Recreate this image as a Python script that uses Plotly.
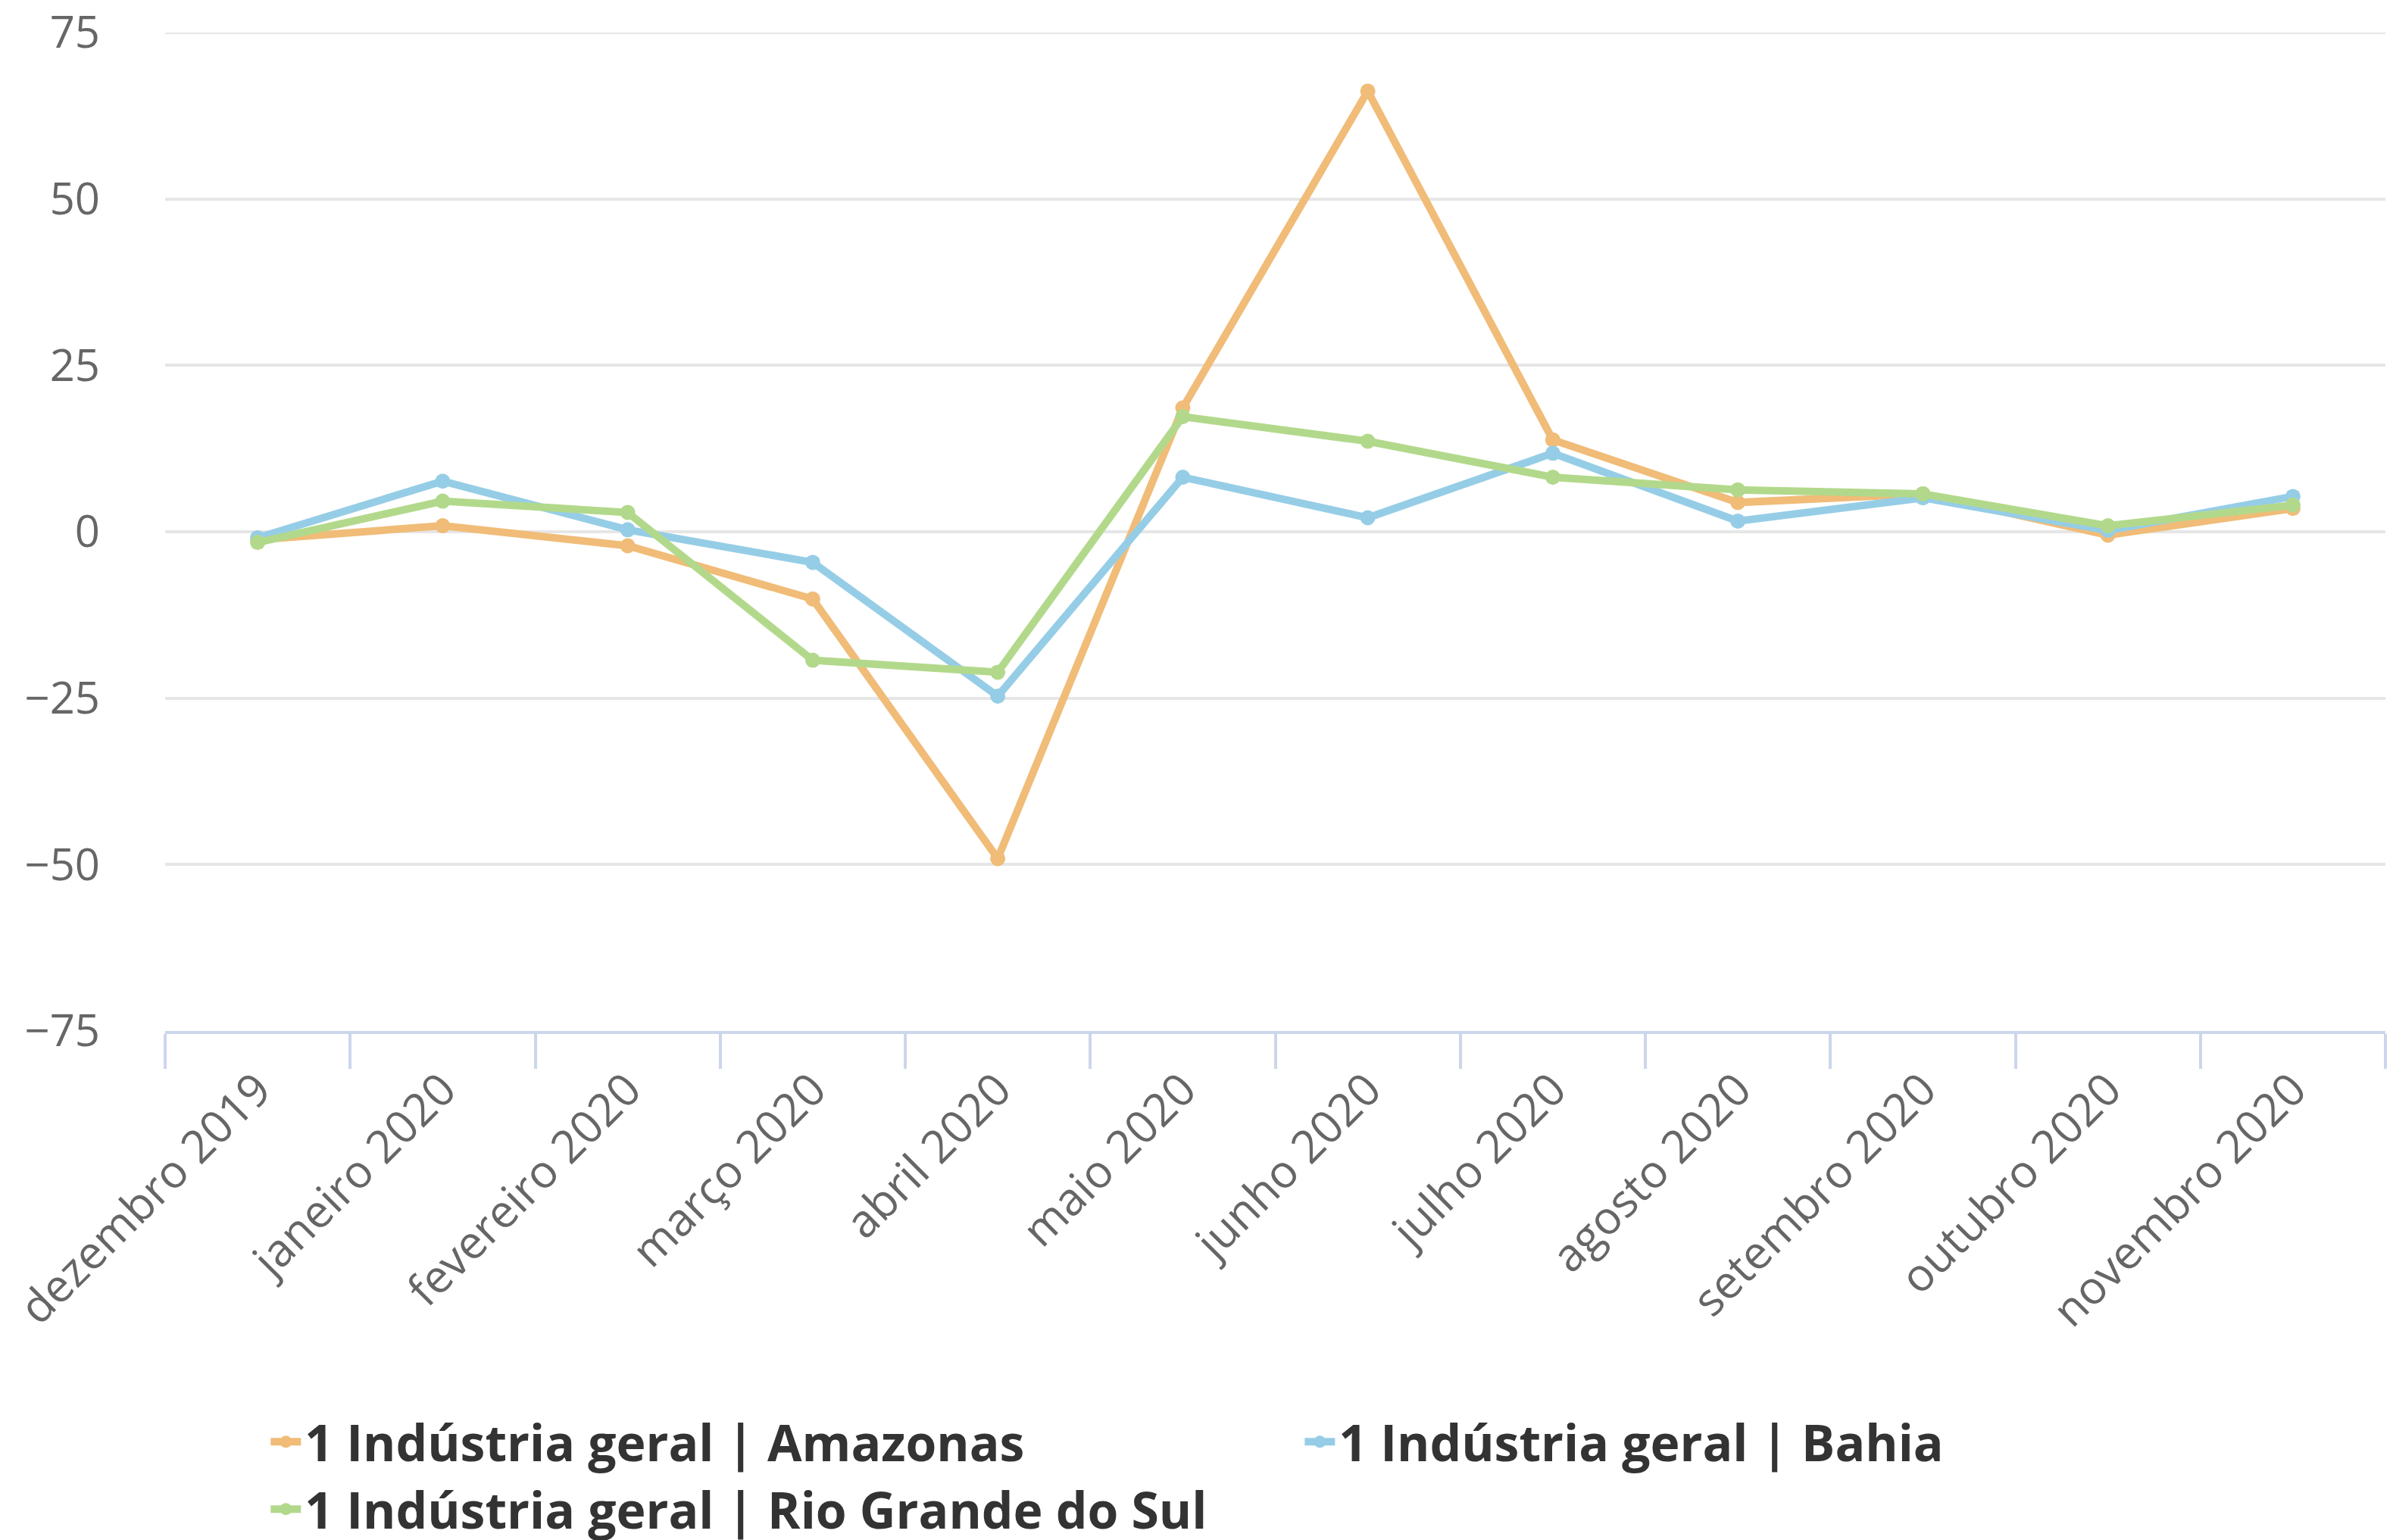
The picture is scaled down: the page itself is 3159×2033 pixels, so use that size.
import plotly.graph_objects as go

categories = ["dezembro 2019", "janeiro 2020", "fevereiro 2020", "março 2020", "abril 2020",
              "maio 2020", "junho 2020", "julho 2020", "agosto 2020", "setembro 2020",
              "outubro 2020", "novembro 2020"]

amazonas = [-1.2, 0.9, -2.1, -10.1, -49.1, 18.6, 66.2, 13.8, 4.4, 5.7, -0.5, 3.5]
bahia = [-0.9, 7.6, 0.3, -4.6, -24.7, 8.2, 2.1, 11.8, 1.6, 5.1, 0.2, 5.3]
rio_grande_do_sul = [-1.6, 4.6, 2.9, -19.3, -21.1, 17.3, 13.6, 8.2, 6.3, 5.7, 0.9, 4.0]

series_names = ["1 Indústria geral | Amazonas", "1 Indústria geral | Bahia",
                "1 Indústria geral | Rio Grande do Sul"]
series_values = [amazonas, bahia, rio_grande_do_sul]
series_colors = ["#f0bc78", "#96cde6", "#b2d98b"]

y_ticks = [-75, -50, -25, 0, 25, 50, 75]

fig = go.Figure()
for name, vals, col in zip(series_names, series_values, series_colors):
    fig.add_trace(go.Scatter(
        x=categories, y=vals, name=name, mode="lines+markers",
        line=dict(color=col, width=10),
        marker=dict(color=col, size=20),
    ))

# top gridline (at the upper end of the axis range) so it is fully visible
fig.add_shape(type="line", xref="paper", x0=0, x1=1, yref="y",
              y0=y_ticks[-1], y1=y_ticks[-1], layer="below",
              line=dict(color="#e6e6e6", width=4))

fig.update_layout(
    width=3159, height=2033,
    paper_bgcolor="white", plot_bgcolor="white",
    margin=dict(l=210, r=18, t=35, b=680),
    font=dict(family="Open Sans", color="#666666"),
    showlegend=True,
    legend=dict(
        orientation="h", xref="container", yref="container",
        x=0.109, y=0.092, xanchor="left", yanchor="top",
        font=dict(family="Open Sans", size=66, color="#333333", weight="bold"),
        entrywidth=1310, entrywidthmode="pixels",
        traceorder="normal", itemwidth=40,
    ),
    xaxis=dict(
        type="category", tickangle=-45, tickson="boundaries",
        ticks="outside", ticklen=46, tickwidth=4, tickcolor="#ccd6eb",
        showline=True, linecolor="#ccd6eb", linewidth=4,
        showgrid=False, tickfont=dict(size=60, color="#666666"),
        range=[-0.5, 11.5], automargin=False, ticklabelstandoff=14,
        ticklabeloverflow="allow",
    ),
    yaxis=dict(
        range=[-75, 75], tickvals=y_ticks, showgrid=True,
        gridcolor="#e6e6e6", gridwidth=4, zeroline=False,
        showline=False, ticks="", tickfont=dict(size=58, color="#666666"),
        ticklabelstandoff=85, automargin=False, ticklabeloverflow="allow",
    ),
)

fig.write_html("out.html")
